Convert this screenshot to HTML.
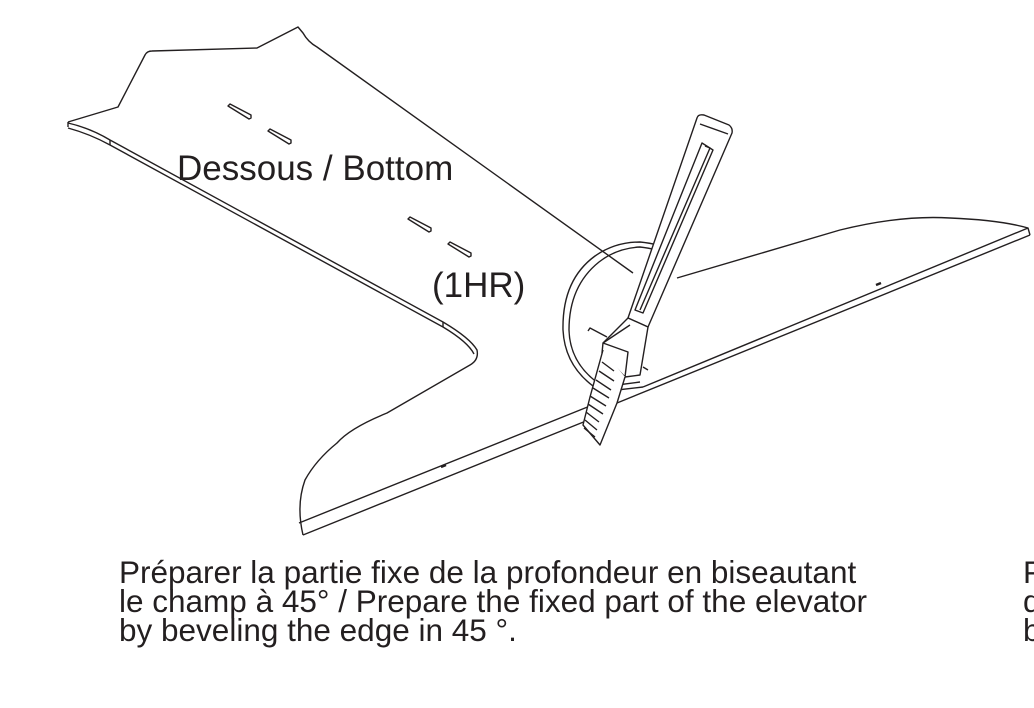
<!DOCTYPE html>
<html><head><meta charset="utf-8"><style>
html,body{margin:0;padding:0;background:#fff;width:1034px;height:708px;overflow:hidden}
svg{display:block}
text{font-family:"Liberation Sans",Arial,sans-serif;fill:#231f20}
</style></head><body>
<svg width="1034" height="708" viewBox="0 0 1034 708">
<g fill="none" stroke="#231f20" stroke-width="1.4" stroke-linejoin="round">
 <g>
  <path d="M68,122 L118,107 L145,55 Q147,51 152,51 L257,48 L298,27 L303,33 Q308,42 317,47 L633,273"/>
  <path d="M68,122 L68,127"/>
  <path d="M68,123 Q90,128 110,140 L443,322 Q470,338 477,350 Q479,360 470,365 L387,413 Q350,428 337,443 Q316,460 305,480 Q296,505 303,535"/>
  <path d="M68,128 Q90,134 110,145 L443,327 Q468,342 474,354"/>
  <path d="M110,140 L110,145 M443,322 L443,327"/>
  <path d="M299,523 L590,406 M303,535 L586,421"/>
  <path d="M441,467 l5,-2" stroke-width="2.5"/>
 </g>
 <g>
  <path d="M677,278 L840,230 Q900,215 950,218 Q1000,220 1028,228 L1030,235"/>
  <path d="M1028,228 L643,387"/>
  <path d="M1030,235 L617,403"/>
  <path d="M876,285 l5,-2" stroke-width="2.5"/>
 </g>
 <g>
  <path d="M228,106 l2,-2 l21,11 l0,3 l-2,1 z M268,131 l2,-2 l21,11 l0,3 l-2,1 z M408,219 l2,-2 l21,11 l0,3 l-2,1 z M448,244 l2,-2 l21,11 l0,3 l-2,1 z M588,331 l2,-3 l17,9 M643,367 l5,3"/>
 </g>
 <g>
  <path d="M602,392 Q565,370 563,330 Q562,280 595,256 Q615,242 640,242 Q660,244 670,250"/>
  <path d="M604,387 Q570,366 569,330 Q569,286 599,262 Q617,248 640,247 Q658,249 669,255"/>
  <path d="M600,392 L643,387 M602,387 L640,382"/>
 </g>
 <g>
  <path d="M697,118 Q698,114 704,115 L729,125 Q733,128 732,133 L648,327 L628,318 Z" fill="#fff"/>
  <path d="M700,124 L728,134"/>
  <path d="M702,143 L713,150 L643,313 L635,310 Z"/>
  <path d="M705,146 L710,148 L640,310"/>
  <path d="M628,318 L648,327 L640,375 L625,377 L602,353 L603,343 Z" fill="#fff"/>
  <path d="M603,343 L630,325 M625,377 L628,352 L603,343"/>
  <path d="M603,350 L590,397 L583,425 L600,445 L617,403 L625,377" fill="#fff"/>
  <path d="M586,412 l13,10 M588,404 l15,10 M590,396 l16,10 M593,388 l16,10 M596,380 l15,10 M599,371 l15,10 M602,362 l12,9 M585,420 l12,10 M584,428 l11,9"/>
 </g>
</g>
<text x="177" y="180" font-size="35">Dessous / Bottom</text>
<text x="432" y="297" font-size="35">(1HR)</text>
<g font-size="31.5">
 <text x="119" y="583">Préparer la partie fixe de la profondeur en biseautant</text>
 <text x="119" y="612">le champ à 45° / Prepare the fixed part of the elevator</text>
 <text x="119" y="641">by beveling the edge in 45 °.</text>
</g>
<g font-size="31.5">
 <text x="1023" y="583">P</text>
 <text x="1023" y="612">d</text>
 <text x="1023" y="641">b</text>
</g>
</svg>
</body></html>
